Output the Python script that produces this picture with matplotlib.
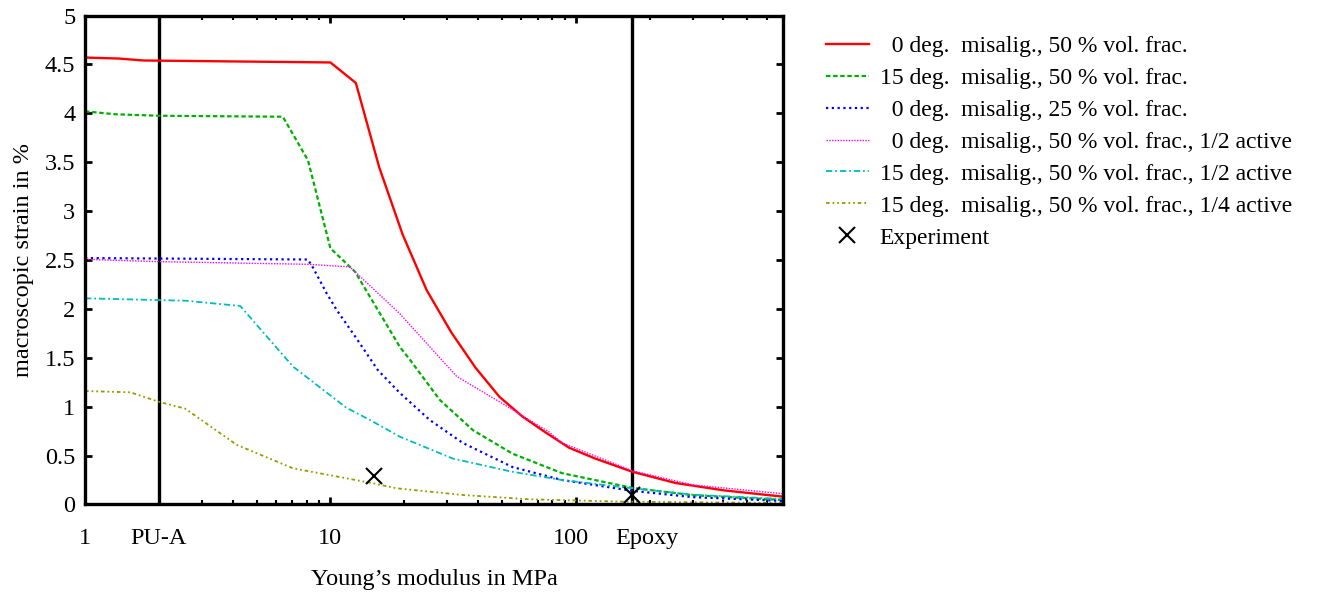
import numpy as np
import matplotlib
matplotlib.use("Agg")
import matplotlib.pyplot as plt
import matplotlib.transforms as mtransforms
from matplotlib.ticker import FixedLocator, LogLocator, NullFormatter

plt.rcParams["font.family"] = ["Liberation Serif", "DejaVu Serif"]

# Young's modulus (MPa) / macroscopic strain (%)
red_E = [1, 1.37, 1.73, 10, 12.7, 15.8, 19.7, 24.7, 31.1, 39.0, 48.9, 60.6, 75, 94, 120, 170, 255, 400, 700]
red_s = [4.57, 4.56, 4.54, 4.52, 4.31, 3.45, 2.76, 2.19, 1.76, 1.40, 1.10, 0.90, 0.74, 0.58, 0.47, 0.335, 0.22, 0.145, 0.08]

green_E = [1, 1.33, 2, 6.4, 8.1, 10, 12.6, 15.6, 19.2, 21.1, 27.9, 38.1, 55.2, 88, 170, 300, 700]
green_s = [4.02, 3.99, 3.975, 3.965, 3.52, 2.62, 2.38, 1.99, 1.61, 1.48, 1.07, 0.76, 0.52, 0.32, 0.17, 0.095, 0.046]

blue_E = [1, 8.1, 8.5, 9.65, 10.6, 12.6, 15.6, 19.2, 25.4, 34.6, 55.2, 88, 170, 300, 700]
blue_s = [2.52, 2.505, 2.42, 2.16, 1.99, 1.72, 1.375, 1.14, 0.864, 0.63, 0.383, 0.25, 0.14, 0.075, 0.036]

magenta_E = [1, 2, 8.1, 12, 19.2, 32.7, 48.9, 78, 88, 170, 300, 700]
magenta_s = [2.507, 2.483, 2.456, 2.43, 1.95, 1.31, 1.05, 0.74, 0.63, 0.345, 0.20, 0.11]

cyan_E = [1, 2, 2.56, 4.29, 7.04, 11.6, 14.5, 19.2, 31.5, 55, 88, 170, 300, 700]
cyan_s = [2.108, 2.09, 2.084, 2.03, 1.41, 0.99, 0.864, 0.693, 0.47, 0.335, 0.25, 0.166, 0.10, 0.056]

olive_E = [1, 1.53, 2, 2.56, 4.15, 7.04, 14.9, 18.6, 34.6, 64.7, 155, 700]
olive_s = [1.16, 1.147, 1.05, 0.98, 0.61, 0.37, 0.217, 0.166, 0.097, 0.053, 0.029, 0.015]

exp_E = [15, 170]
exp_s = [0.29, 0.10]

labels = [
    "  0 deg.  misalig., 50 % vol. frac.",
    "15 deg.  misalig., 50 % vol. frac.",
    "  0 deg.  misalig., 25 % vol. frac.",
    "  0 deg.  misalig., 50 % vol. frac., 1/2 active",
    "15 deg.  misalig., 50 % vol. frac., 1/2 active",
    "15 deg.  misalig., 50 % vol. frac., 1/4 active",
    "Experiment",
]

xtick_pos = [1, 2, 10, 100, 170]
xtick_lab = ["1", "PU-A", "10", "100", "Epoxy"]
ytick_pos = [0, 0.5, 1, 1.5, 2, 2.5, 3, 3.5, 4, 4.5, 5]
ytick_lab = ["0", "0.5", "1", "1.5", "2", "2.5", "3", "3.5", "4", "4.5", "5"]

fig = plt.figure(figsize=(13.25, 5.94), dpi=100)
ax = fig.add_axes([0.0642, 0.1507, 0.5268, 0.8232])

ax.axvline(2, color="black", lw=2.4, zorder=1)
ax.axvline(170, color="black", lw=2.4, zorder=1)

ax.plot(red_E, red_s, color="#ff0000", lw=1.7, ls="-", label=labels[0])
ax.plot(green_E, green_s, color="#00b000", lw=1.6, ls=(0, (2, 1.2)), label=labels[1])
ax.plot(blue_E, blue_s, color="#0000ff", lw=1.6, ls=(0, (1, 1.6)), label=labels[2])
ax.plot(magenta_E, magenta_s, color="#ff00ff", lw=1.0, ls=(0, (1, 1)), label=labels[3])
ax.plot(cyan_E, cyan_s, color="#00bcbc", lw=1.3, ls=(0, (3.5, 1.6, 1, 1.6)), label=labels[4])
ax.plot(olive_E, olive_s, color="#999900", lw=1.3, ls=(0, (2, 1.6, 1, 1.6, 1, 1.6)), label=labels[5])
ax.plot(exp_E, exp_s, "x", color="black", ms=12, mew=1.5, ls="none", label=labels[6])

ax.set_xscale("log")
ax.set_xlim(1, 700)
ax.set_ylim(0, 5)
ax.xaxis.set_major_locator(FixedLocator(xtick_pos))
ax.set_xticklabels(xtick_lab)
ax.xaxis.set_minor_locator(LogLocator(base=10, subs=np.arange(2, 10)))
ax.xaxis.set_minor_formatter(NullFormatter())
ax.set_yticks(ytick_pos)
ax.set_yticklabels(ytick_lab)

ax.tick_params(which="major", direction="in", top=True, right=True, length=5, width=2,
               labelsize=17.5, pad=7)
ax.tick_params(axis="x", which="major", pad=17)
ax.tick_params(which="minor", direction="in", top=True, right=False, length=3, width=1.5)
for sp in ax.spines.values():
    sp.set_linewidth(2.4)

# nudge the "100" and "Epoxy" labels apart like the original
shifts = {"100": -5, "Epoxy": 15}
for lab in ax.get_xticklabels():
    dx = shifts.get(lab.get_text(), 0)
    if dx:
        lab.set_transform(lab.get_transform() + mtransforms.ScaledTranslation(dx / 100, 0, fig.dpi_scale_trans))

ax.set_xlabel("Young\u2019s modulus in MPa", fontsize=17.5, labelpad=14)
ax.set_ylabel("macroscopic strain in %", fontsize=17.5, labelpad=8)

ax.legend(loc="upper left", bbox_to_anchor=(0.6143, 0.96), bbox_transform=fig.transFigure,
          frameon=False, fontsize=17, borderpad=0, handlelength=1.82, handletextpad=0.47,
          labelspacing=0.44, numpoints=1)

fig.savefig("out.png", dpi=100)
